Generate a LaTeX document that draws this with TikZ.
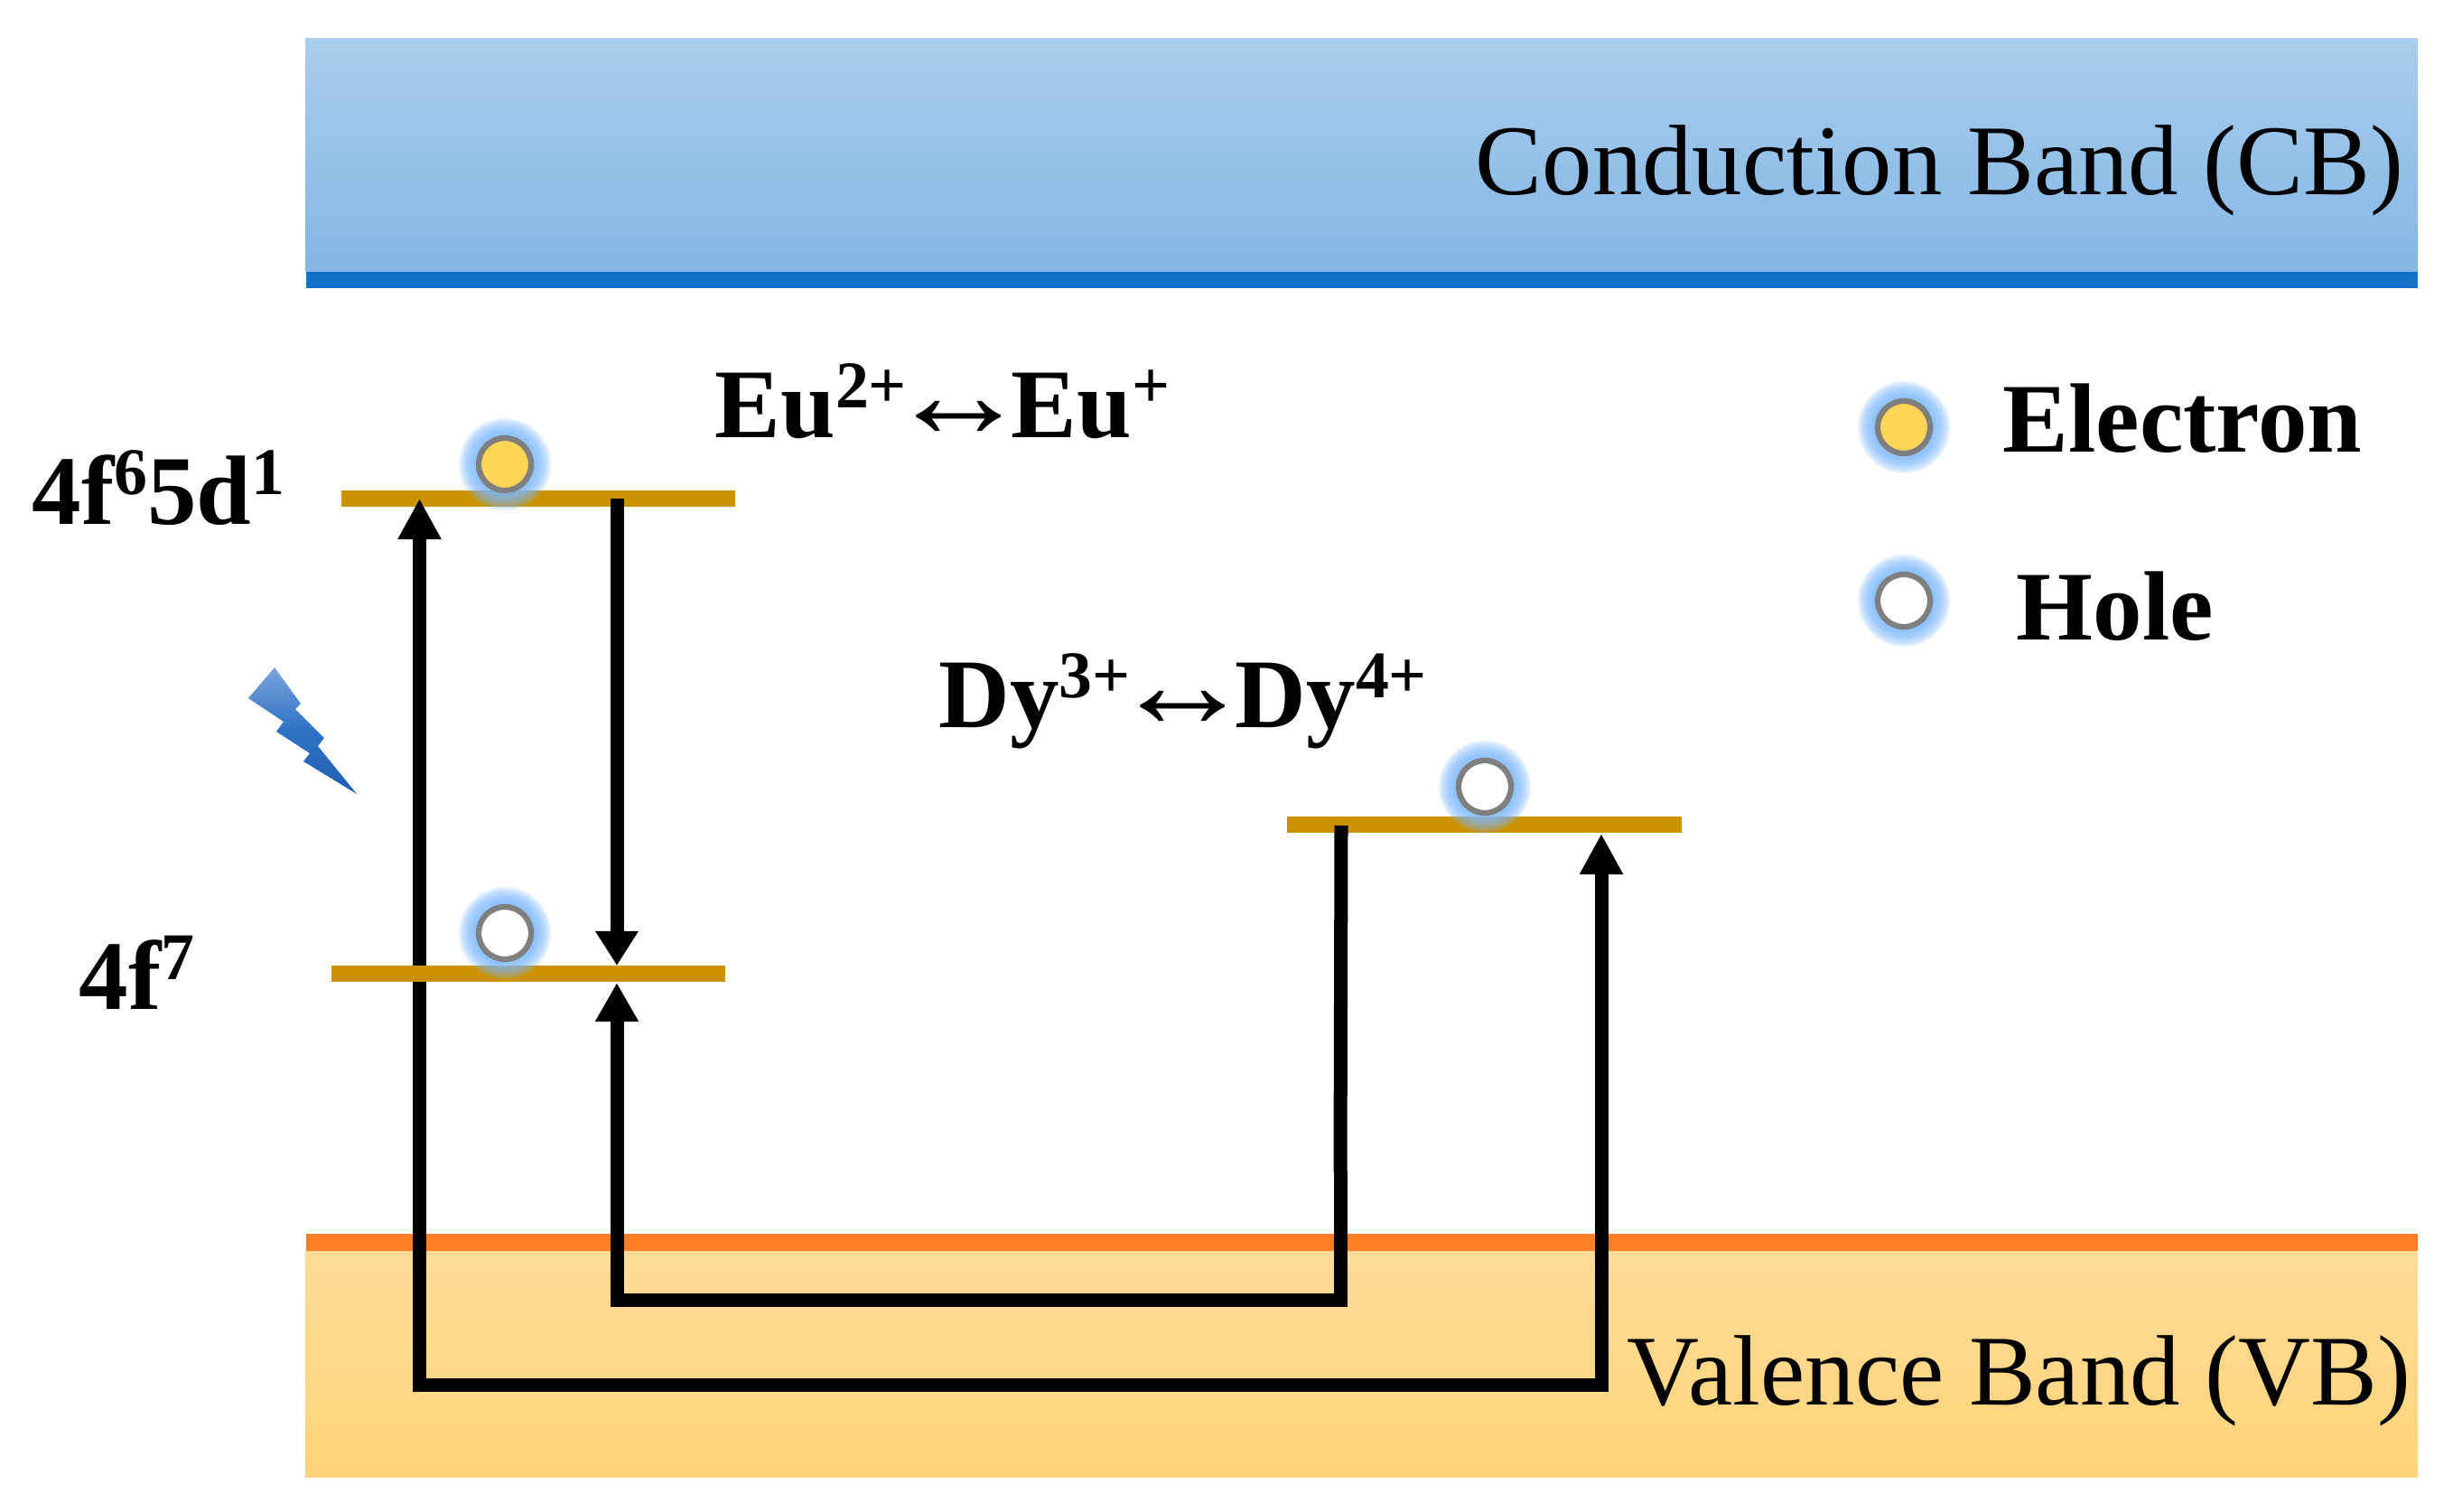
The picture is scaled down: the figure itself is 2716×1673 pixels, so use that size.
\documentclass[tikz,border=0pt]{standalone}
\usepackage{fontspec}
\usepackage{graphicx}
\setmainfont{Liberation Serif}
\usetikzlibrary{arrows.meta}
\definecolor{cbtop}{HTML}{A9CDEC}
\definecolor{cbbot}{HTML}{84B6E4}
\definecolor{cbline}{HTML}{1170C8}
\definecolor{vbtop}{HTML}{FFDB99}
\definecolor{vbbot}{HTML}{FFD478}
\definecolor{vbline}{HTML}{FF7F27}
\definecolor{gold}{HTML}{CC9200}
\definecolor{glowblue}{HTML}{7DB8FF}
\definecolor{ringgray}{HTML}{7F7F7F}
\definecolor{yellowfill}{HTML}{FFD556}
\definecolor{boltA}{HTML}{7BA3DC}
\definecolor{boltB}{HTML}{2F72C4}
\definecolor{boltC}{HTML}{1F5DAE}
\newcommand\supr[1]{\raisebox{0.30em}{\fontsize{21}{21}\selectfont #1}}
\newcommand\lrarrow{\hspace{-6pt}{\normalfont\scalebox{1.45}[1.3]{↔}}\hspace{-6pt}}
\newcommand\glow[1]{\foreach \r in {33,35,...,51}{\fill[glowblue,opacity=0.18] (#1) circle (\r);}}
\tikzset{
  x=0.01cm,y=-0.01cm,
  level/.style={fill=gold,draw=none,minimum height=0.18cm,inner sep=0},
  bandtext/.style={font=\fontsize{31.5}{36}\selectfont,anchor=base west,inner sep=0},
  boldtext/.style={font=\fontsize{31}{36}\selectfont\bfseries,anchor=base west,inner sep=0},
  carrier/.style={circle,draw=ringgray,line width=0.0625cm,minimum size=0.58cm,inner sep=0},
  electronball/.style={carrier,fill=yellowfill},
  holeball/.style={carrier,fill=white},
  wire/.style={line width=0.15cm,draw=black,miter limit=10}
}
\begin{document}
\begin{tikzpicture}
\useasboundingbox (0,0) rectangle (2716,1673);
% bands
\node[inner sep=0,minimum width=23.37cm,minimum height=2.58cm,top color=cbtop,bottom color=cbbot,anchor=north west] (cb) at (338,42) {};
\node[inner sep=0,minimum width=23.37cm,minimum height=0.18cm,fill=cbline,anchor=north west] (cbedge) at (338,300) {};
\node[inner sep=0,minimum width=23.37cm,minimum height=2.51cm,top color=vbtop,bottom color=vbbot,anchor=north west] (vb) at (338,1384) {};
\node[inner sep=0,minimum width=23.37cm,minimum height=0.19cm,fill=vbline,anchor=north west] (vbedge) at (338,1365) {};
% levels
\node[level,minimum width=4.36cm,anchor=west] (lvA) at (377,552) {};
\node[level,minimum width=4.36cm,anchor=west] (lvB) at (366,1078) {};
\node[level,minimum width=4.37cm,anchor=west] (lvC) at (1424,913) {};
% connector end points
\coordinate (pA) at (464.5,552);
\coordinate (pAb) at (464.5,1533);
\coordinate (pC) at (1773,923);
\coordinate (pCb) at (1773,1533);
\coordinate (qA) at (683,552);
\coordinate (qB) at (683,1069);
\coordinate (rB) at (683,1088);
\coordinate (rBb) at (683,1439);
\coordinate (rC) at (1484,1439);
\coordinate (rD) at (1484,1297);
\coordinate (rE) at (1485,914);
% connectors
\draw[wire,{Triangle[length=0.45cm,width=0.45cm]}-{Triangle[length=0.45cm,width=0.45cm]}] (pA) -- (pAb) -- (pCb) -- (pC);
\draw[wire,-{Triangle[length=0.38cm,width=0.45cm]}] (qA) -- (qB);
\draw[wire,{Triangle[length=0.43cm,width=0.45cm]}-] (rB) -- (rBb) -- (rC) -- (rD);
\draw[wire] (rD) -- (rE);
% level B passes over the rising line
\node[level,minimum width=4.36cm,anchor=west] (lvBtop) at (366,1078) {};
% lightning
\path[top color=boltA,bottom color=boltC,middle color=boltB,draw=none]
 (304,739) -- (333,779) -- (327,785) -- (359,817) -- (352,826) -- (395,879)
 -- (336,843) -- (343,834) -- (306,810) -- (314,799) -- (275,773) -- cycle;
% glows and carriers
\glow{559,514}
\glow{559,1033}
\glow{1644,871}
\glow{2108,473}
\glow{2108,665}
\node[electronball] (e1) at (559,514) {};
\node[holeball] (h1) at (559,1033) {};
\node[holeball] (h2) at (1644,871) {};
\node[electronball] (e2) at (2108,473) {};
\node[holeball] (h3) at (2108,665) {};
% texts
\node[bandtext] (tcb) at (1633,216) {Conduction Band (CB)};
\node[bandtext] (tvb) at (1801,1555) {Valence Band (VB)};
\node[boldtext] (teu) at (791,484) {Eu\supr{2+}\lrarrow Eu\supr{+}};
\node[boldtext] (tdy) at (1039,805) {Dy\supr{3+}\lrarrow Dy\supr{4+}};
\node[boldtext] (tA) at (35,580) {4f\supr{6}5d\supr{1}};
\node[boldtext] (tB) at (87,1117) {4f\supr{7}};
\node[boldtext] (tel) at (2217,500) {Electron};
\node[boldtext] (tho) at (2232,708) {Hole};
\end{tikzpicture}
\end{document}
